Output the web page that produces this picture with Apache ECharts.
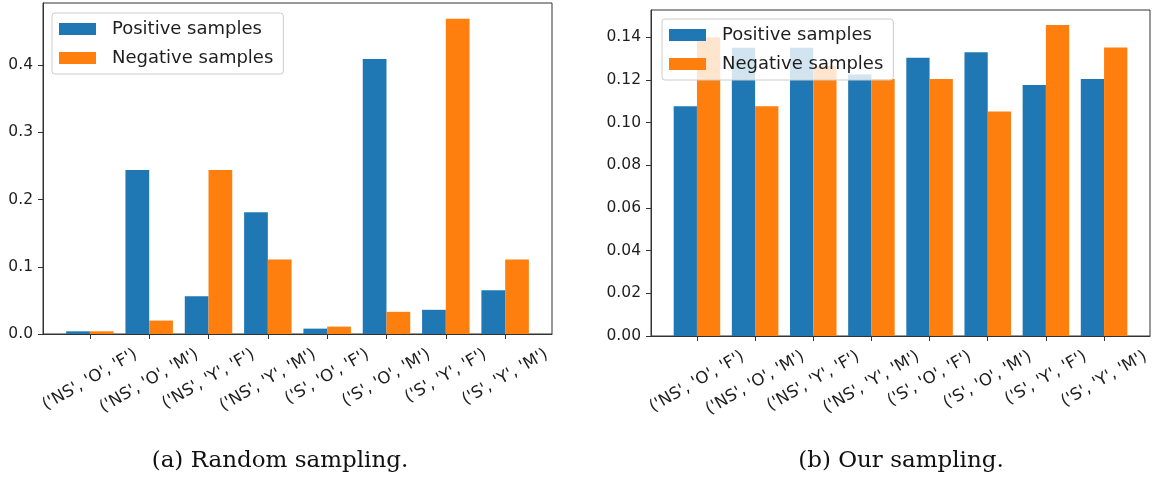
<!DOCTYPE html>
<html>
<head>
<meta charset="utf-8">
<script src="https://cdn.jsdelivr.net/npm/echarts@6/dist/echarts.min.js"></script>
<style>
  html, body { margin: 0; padding: 0; background: #ffffff; }
  #chart { width: 1153px; height: 480px; }
</style>
</head>
<body>
<div id="chart"></div>
<script>
// Groups shown on the x axis of both panels
const categories = [
  "('NS', 'O', 'F')", "('NS', 'O', 'M')", "('NS', 'Y', 'F')", "('NS', 'Y', 'M')",
  "('S', 'O', 'F')", "('S', 'O', 'M')", "('S', 'Y', 'F')", "('S', 'Y', 'M')"
];
const seriesNames = ['Positive samples', 'Negative samples'];

// Panel (a): random sampling
const randomPositive = [0.004, 0.244, 0.056, 0.181, 0.008, 0.409, 0.036, 0.065];
const randomNegative = [0.004, 0.020, 0.244, 0.111, 0.011, 0.033, 0.469, 0.111];
const randomTicks = [0, 0.1, 0.2, 0.3, 0.4];

// Panel (b): our sampling
const oursPositive = [0.1077, 0.1351, 0.1351, 0.1226, 0.1304, 0.1330, 0.1177, 0.1205];
const oursNegative = [0.1400, 0.1077, 0.1265, 0.1205, 0.1205, 0.1052, 0.1458, 0.1352];
const oursTicks = [0, 0.02, 0.04, 0.06, 0.08, 0.10, 0.12, 0.14];

const captions = ['(a) Random sampling.', '(b) Our sampling.'];

const BLUE = '#1f77b4';
const ORANGE = '#ff7f0e';
const INK = '#1e1e1e';
const FRAME = '#333333';
const SANS = 'DejaVu Sans';
const LABEL_SIZE = 16.5;
const catIdx = categories.map((_, i) => i);

// Rotated tick labels hang from a common top edge, so longer labels sit lower.
// Each label gets padding (right P, top P*tan60) which moves its centre straight down by P.
const measureCtx = document.createElement('canvas').getContext('2d');
measureCtx.font = LABEL_SIZE + 'px "' + SANS + '"';
const labelWidths = categories.map(t => measureCtx.measureText(t).width);
const minLabelWidth = Math.min.apply(null, labelWidths);
const labelRich = {};
categories.forEach((t, i) => {
  const p = 0.25 * (labelWidths[i] - minLabelWidth);
  labelRich['c' + i] = {
    fontFamily: SANS, fontSize: LABEL_SIZE, color: INK,
    padding: [p * Math.sqrt(3), p, 0, 0]
  };
});

function xAxisFor(gridIndex) {
  return {
    type: 'value', gridIndex: gridIndex,
    min: -0.79, max: 7.79,
    splitLine: { show: false },
    axisLine: { show: true, onZero: false, lineStyle: { color: FRAME, width: 1 } },
    axisTick: { show: true, customValues: catIdx, length: 5, lineStyle: { color: FRAME, width: 1 } },
    axisLabel: {
      customValues: catIdx,
      formatter: v => { const i = Math.round(v); return '{c' + i + '|' + categories[i] + '}'; },
      rich: labelRich,
      rotate: 30, align: 'center', verticalAlign: 'middle',
      margin: 42, color: INK, fontFamily: SANS, fontSize: LABEL_SIZE
    }
  };
}

function yAxisFor(gridIndex, max, ticks, digits) {
  return {
    type: 'value', gridIndex: gridIndex,
    min: 0, max: max,
    splitLine: { show: false },
    axisLine: { show: true, onZero: false, lineStyle: { color: FRAME, width: 1 } },
    axisTick: { show: true, customValues: ticks, length: 5, lineStyle: { color: FRAME, width: 1 } },
    axisLabel: {
      customValues: ticks,
      formatter: v => v.toFixed(digits),
      margin: 10, color: INK, fontFamily: SANS, fontSize: 15.5
    }
  };
}

function barSeries(name, values, color, axisIndex) {
  return {
    type: 'bar', name: name,
    xAxisIndex: axisIndex, yAxisIndex: axisIndex,
    data: values.map((v, i) => [i, v]),
    barWidth: '40%', barGap: '0%',
    itemStyle: { color: color },
    emphasis: { disabled: true }
  };
}

function legendAt(left, top) {
  return {
    left: left, top: top, orient: 'vertical',
    data: seriesNames,
    icon: 'rect', itemWidth: 37, itemHeight: 12, itemGap: 11,
    padding: [7, 10, 7, 7],
    backgroundColor: 'rgba(255,255,255,0.8)',
    borderColor: '#cccccc', borderWidth: 1, borderRadius: 3,
    selectedMode: false,
    textStyle: { fontFamily: SANS, fontSize: 18, color: INK, padding: [0, 0, 0, 11] }
  };
}

function caption(text, centerX) {
  return {
    text: text, left: centerX, top: 450, textAlign: 'center', padding: 0,
    textStyle: { fontFamily: 'DejaVu Serif', fontSize: 23, fontWeight: 'normal', color: '#111111' }
  };
}

const chart = echarts.init(document.getElementById('chart'), null, { renderer: 'canvas' });
chart.setOption({
  animation: false,
  backgroundColor: '#ffffff',
  title: [caption(captions[0], 280), caption(captions[1], 901)],
  grid: [
    { left: 43, top: 3, right: 601, bottom: 146, show: true, borderColor: FRAME, borderWidth: 1, backgroundColor: 'transparent' },
    { left: 651, top: 10, right: 3, bottom: 144, show: true, borderColor: FRAME, borderWidth: 1, backgroundColor: 'transparent' }
  ],
  xAxis: [xAxisFor(0), xAxisFor(1)],
  yAxis: [yAxisFor(0, 0.4925, randomTicks, 1), yAxisFor(1, 0.1528, oursTicks, 2)],
  legend: [legendAt(52, 13), legendAt(662, 19)],
  series: [
    barSeries(seriesNames[0], randomPositive, BLUE, 0),
    barSeries(seriesNames[1], randomNegative, ORANGE, 0),
    barSeries(seriesNames[0], oursPositive, BLUE, 1),
    barSeries(seriesNames[1], oursNegative, ORANGE, 1)
  ]
});
</script>
</body>
</html>
